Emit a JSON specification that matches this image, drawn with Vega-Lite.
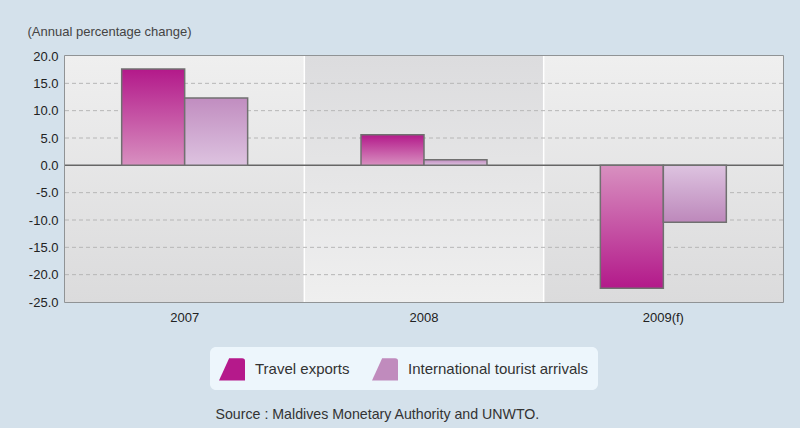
{
  "$schema": "https://vega.github.io/schema/vega-lite/v6.json",
  "width": 718,
  "height": 246,
  "autosize": {"type": "none"},
  "padding": {"left": 65, "top": 56, "right": 17, "bottom": 126},
  "background": "#d4e1eb",
  "config": {
    "font": "Liberation Sans",
    "view": {"stroke": "#7a7a7a", "strokeWidth": 1.5},
    "axis": {"labelOverlap": false},
    "locale": {"number": {"decimal": ".", "thousands": ",", "grouping": [3], "currency": ["$", ""], "minus": "-"}}
  },
  "datasets": {
    "bands": [{"year": "2007"}, {"year": "2008"}, {"year": "2009(f)"}],
    "grid": [{"g": -20}, {"g": -15}, {"g": -10}, {"g": -5}, {"g": 5}, {"g": 10}, {"g": 15}],
    "bars": [
      {"year": "2007", "series": "Travel exports", "value": 17.6},
      {"year": "2007", "series": "International tourist arrivals", "value": 12.3},
      {"year": "2008", "series": "Travel exports", "value": 5.6},
      {"year": "2008", "series": "International tourist arrivals", "value": 1.0},
      {"year": "2009(f)", "series": "Travel exports", "value": -22.5},
      {"year": "2009(f)", "series": "International tourist arrivals", "value": -10.4}
    ]
  },
  "layer": [
    {
      "data": {"name": "bands"},
      "mark": {"type": "rect"},
      "encoding": {
        "x": {
          "field": "year", "type": "nominal",
          "scale": {"domain": ["2007", "2008", "2009(f)"], "paddingInner": 0, "paddingOuter": 0},
          "axis": {
            "title": "Source : Maldives Monetary Authority and UNWTO.",
            "titleX": 150, "titleY": 112, "titleAlign": "left", "titleBaseline": "middle",
            "titleFontSize": 14.2, "titleFontWeight": "normal", "titleColor": "#333333",
            "labelAngle": 0, "labelFontSize": 13, "labelColor": "#222222", "labelPadding": 9,
            "ticks": false, "domain": false, "grid": false
          }
        },
        "y": {
          "datum": 20, "type": "quantitative",
          "scale": {"domain": [-25, 20], "nice": false, "zero": false},
          "axis": {
            "title": "(Annual percentage change)",
            "titleAngle": 0, "titleX": -38, "titleY": -25, "titleAlign": "left", "titleBaseline": "middle",
            "titleFontSize": 13, "titleFontWeight": "normal", "titleColor": "#444444",
            "values": [-25, -20, -15, -10, -5, 0, 5, 10, 15, 20],
            "tickCount": 20,
            "format": ".1f",
            "labelOverlap": false,
            "labelFontSize": 13, "labelColor": "#222222", "labelPadding": 7,
            "ticks": false, "domain": false, "grid": false
          }
        },
        "y2": {"datum": -25},
        "fill": {
          "condition": {"test": "datum.year === '2008'", "value": {"gradient": "linear", "x1": 0, "y1": 0, "x2": 0, "y2": 1, "stops": [{"offset": 0, "color": "#dcdcde"}, {"offset": 1, "color": "#efefef"}]}},
          "value": {"gradient": "linear", "x1": 0, "y1": 0, "x2": 0, "y2": 1, "stops": [{"offset": 0, "color": "#efefef"}, {"offset": 1, "color": "#dbdbdc"}]}
        }
      }
    },
    {
      "data": {"name": "bands"},
      "transform": [{"filter": "datum.year !== '2007'"}],
      "mark": {"type": "rule", "color": "#ffffff", "strokeWidth": 1.5},
      "encoding": {
        "x": {"field": "year", "type": "nominal", "bandPosition": 0}
      }
    },
    {
      "data": {"name": "grid"},
      "mark": {"type": "rule", "color": "#b6b6b6", "strokeWidth": 1, "strokeDash": [4, 3]},
      "encoding": {
        "y": {"field": "g", "type": "quantitative"}
      }
    },
    {
      "data": {"values": [{"z": 0}]},
      "mark": {"type": "rule", "color": "#666666", "strokeWidth": 1.5},
      "encoding": {
        "y": {"field": "z", "type": "quantitative"}
      }
    },
    {
      "data": {"name": "bars"},
      "mark": {"type": "bar", "stroke": "#707070", "strokeWidth": 1.5},
      "encoding": {
        "x": {"field": "year", "type": "nominal"},
        "xOffset": {
          "field": "series", "type": "nominal",
          "scale": {"domain": ["Travel exports", "International tourist arrivals"], "paddingInner": 0, "paddingOuter": 0.9}
        },
        "y": {"field": "value", "type": "quantitative", "stack": null},
        "y2": {"datum": 0},
        "fill": {
          "condition": [
            {"test": "datum.series === 'Travel exports' && datum.value >= 0", "value": {"gradient": "linear", "x1": 0, "y1": 0, "x2": 0, "y2": 1, "stops": [{"offset": 0, "color": "#b3198a"}, {"offset": 1, "color": "#d890c0"}]}},
            {"test": "datum.series === 'Travel exports'", "value": {"gradient": "linear", "x1": 0, "y1": 0, "x2": 0, "y2": 1, "stops": [{"offset": 0, "color": "#d890c0"}, {"offset": 1, "color": "#b3198a"}]}},
            {"test": "datum.value >= 0", "value": {"gradient": "linear", "x1": 0, "y1": 0, "x2": 0, "y2": 1, "stops": [{"offset": 0, "color": "#c18dc0"}, {"offset": 1, "color": "#ddc3e0"}]}}
          ],
          "value": {"gradient": "linear", "x1": 0, "y1": 0, "x2": 0, "y2": 1, "stops": [{"offset": 0, "color": "#ddc3e0"}, {"offset": 1, "color": "#bd88bb"}]}
        }
      }
    },
    {
      "data": {"name": "bars"},
      "mark": {"type": "point", "filled": true, "opacity": 0},
      "encoding": {
        "fill": {
          "field": "series", "type": "nominal",
          "scale": {"domain": ["Travel exports", "International tourist arrivals"], "range": ["#b5198b", "#c08bbd"]},
          "legend": {
            "title": null, "orient": "none", "legendX": 145, "legendY": 291, "direction": "horizontal",
            "symbolType": "M -1 0.86 L -0.22 -0.86 L 0.78 -0.86 Q 1 -0.86 1 -0.64 L 1 0.86 Z",
            "symbolSize": 676, "symbolStrokeWidth": 0, "symbolOpacity": 1,
            "labelFontSize": 15, "labelColor": "#333333", "labelOffset": 10, "labelLimit": 300,
            "columnPadding": 22, "padding": 9, "fillColor": "#edf6fc", "cornerRadius": 6
          }
        }
      }
    }
  ]
}
